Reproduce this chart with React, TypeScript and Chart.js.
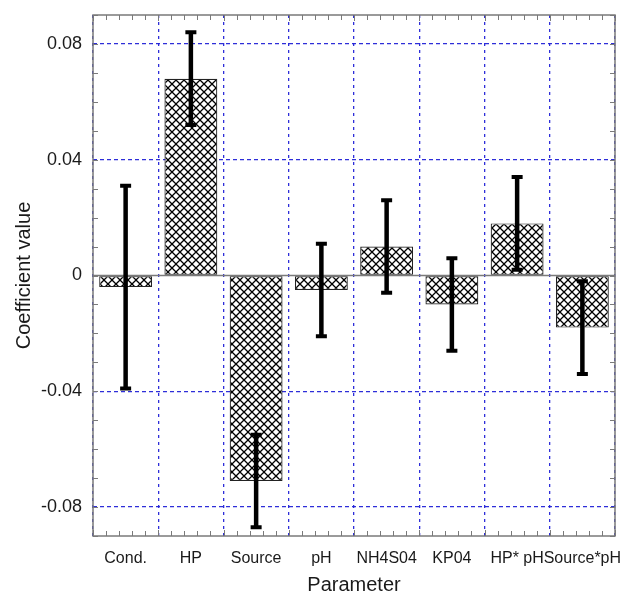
import React, { useEffect, useRef } from "react";
import { Chart, registerables } from "chart.js";

Chart.register(...registerables);

const categories = ["Cond.", "HP", "Source", "pH", "NH4S04", "KP04", "HP* pH", "Source*pH"];
const coefficients = [-0.004, 0.068, -0.071, -0.005, 0.010, -0.010, 0.018, -0.018];
const errorHalfWidths = [0.035, 0.016, 0.016, 0.016, 0.016, 0.016, 0.016, 0.016];
const yMin = -0.09;
const yMax = 0.09;
const yLabelStep = 0.04;

const FONT = "'Liberation Sans', Arial, Helvetica, sans-serif";
const GRID_BLUE = "rgba(35,35,215,0.95)";
const FRAME = "#7a7a7a";

function makeHatch(): CanvasPattern | string {
  const s = 8;
  const c = document.createElement("canvas");
  c.width = s;
  c.height = s;
  const g = c.getContext("2d");
  if (!g) return "#fff";
  g.fillStyle = "#fff";
  g.fillRect(0, 0, s, s);
  g.strokeStyle = "#000";
  g.lineWidth = 1.3;
  g.beginPath();
  g.moveTo(-1, -1);
  g.lineTo(s + 1, s + 1);
  g.moveTo(-1, s + 1);
  g.lineTo(s + 1, -1);
  g.stroke();
  const p = g.createPattern(c, "repeat");
  return p || "#fff";
}

const framePlugin = {
  id: "framePlugin",
  beforeDatasetsDraw(chart: any) {
    const { ctx, chartArea } = chart;
    const y = chart.scales.y;
    ctx.save();
    ctx.strokeStyle = FRAME;
    ctx.lineWidth = 1.5;
    const y0 = y.getPixelForValue(0);
    ctx.beginPath();
    ctx.moveTo(chartArea.left, y0);
    ctx.lineTo(chartArea.right, y0);
    ctx.stroke();
    ctx.restore();
  },
  afterDatasetsDraw(chart: any) {
    const { ctx } = chart;
    const meta = chart.getDatasetMeta(0);
    const y = chart.scales.y;
    ctx.save();
    ctx.strokeStyle = "#000";
    meta.data.forEach((bar: any, i: number) => {
      const v = coefficients[i];
      const e = errorHalfWidths[i];
      const x = bar.x;
      const yt = y.getPixelForValue(v + e);
      const yb = y.getPixelForValue(v - e);
      ctx.lineWidth = 4.5;
      ctx.beginPath();
      ctx.moveTo(x, yt);
      ctx.lineTo(x, yb);
      ctx.stroke();
      ctx.lineWidth = 4;
      ctx.beginPath();
      ctx.moveTo(x - 5.5, yt);
      ctx.lineTo(x + 5.5, yt);
      ctx.moveTo(x - 5.5, yb);
      ctx.lineTo(x + 5.5, yb);
      ctx.stroke();
    });
    ctx.restore();
  },
  afterDraw(chart: any) {
    const { ctx, chartArea } = chart;
    const { left, right, top, bottom } = chartArea;
    const y = chart.scales.y;
    const x = chart.scales.x;
    ctx.save();
    ctx.strokeStyle = FRAME;
    ctx.lineWidth = 1;
    for (let k = -9; k <= 9; k++) {
      const py = Math.round(y.getPixelForValue(k / 100)) + 0.5;
      ctx.beginPath();
      ctx.moveTo(left, py);
      ctx.lineTo(left + 5, py);
      ctx.moveTo(right, py);
      ctx.lineTo(right - 5, py);
      ctx.stroke();
    }
    for (let i = 0; i < categories.length; i++) {
      for (let k = 0; k <= 5; k++) {
        const px = Math.round(x.getPixelForValue(i - 0.5 + k / 5)) + 0.5;
        const len = k === 0 || k === 5 ? 6 : 5;
        ctx.beginPath();
        ctx.moveTo(px, bottom);
        ctx.lineTo(px, bottom - len);
        ctx.moveTo(px, top);
        ctx.lineTo(px, top + len);
        ctx.stroke();
      }
    }
    ctx.lineWidth = 1.5;
    ctx.strokeRect(left, top, right - left, bottom - top);
    ctx.restore();
  },
};

export default function App() {
  const ref = useRef<HTMLCanvasElement | null>(null);
  useEffect(() => {
    if (!ref.current) return;
    const hatch = makeHatch();
    const chart = new Chart(ref.current, {
      type: "bar",
      data: {
        labels: categories,
        datasets: [
          {
            data: coefficients,
            backgroundColor: hatch as any,
            borderColor: "#222",
            borderWidth: 1.2,
            borderSkipped: false,
            categoryPercentage: 0.81,
            barPercentage: 1,
          },
        ],
      },
      options: {
        animation: false,
        responsive: false,
        devicePixelRatio: 1,
        layout: { padding: { top: 15, right: 16, bottom: 0, left: 0 } },
        plugins: { legend: { display: false }, tooltip: { enabled: false } },
        scales: {
          x: {
            offset: true,
            grid: {
              offset: true,
              color: GRID_BLUE,
              lineWidth: 1.3,
              drawTicks: false,
            },
            border: { display: false, dash: [3, 4] },
            ticks: {
              color: "#1a1a1a",
              padding: 13,
              font: { family: FONT, size: 16 },
              maxRotation: 0,
              autoSkip: false,
            },
            title: {
              display: true,
              text: "Parameter",
              color: "#1a1a1a",
              font: { family: FONT, size: 20 },
              padding: { top: 0, bottom: 0 },
            },
            afterFit: (s: any) => {
              s.height = 61;
              s.paddingLeft = 0;
              s.paddingRight = 0;
            },
          },
          y: {
            min: yMin,
            max: yMax,
            grid: {
              color: (c: any) => {
                const v = Math.round(c.tick.value * 100);
                return v !== 0 && v % Math.round(yLabelStep * 100) === 0 ? GRID_BLUE : "rgba(0,0,0,0)";
              },
              lineWidth: 1.3,
              drawTicks: false,
            },
            border: { display: false, dash: [4, 3] },
            ticks: {
              stepSize: 0.01,
              color: "#1a1a1a",
              padding: 11,
              font: { family: FONT, size: 18 },
              callback: (val: any) => {
                const v = Math.round(Number(val) * 100);
                if (v % Math.round(yLabelStep * 100) !== 0) return "";
                if (v === 0) return "0";
                return (v / 100).toFixed(2);
              },
            },
            title: {
              display: true,
              text: "Coefficient value",
              color: "#1a1a1a",
              font: { family: FONT, size: 20 },
              padding: { top: 12, bottom: 0 },
            },
            afterFit: (s: any) => {
              s.width = 93;
              s.paddingTop = 0;
              s.paddingBottom = 0;
            },
          },
        },
      },
      plugins: [framePlugin],
    });
    return () => chart.destroy();
  }, []);
  return (
    <div style={{ position: "fixed", left: 0, top: 0, width: 631, height: 597, background: "#fff" }}>
      <canvas ref={ref} width={631} height={597} />
    </div>
  );
}
